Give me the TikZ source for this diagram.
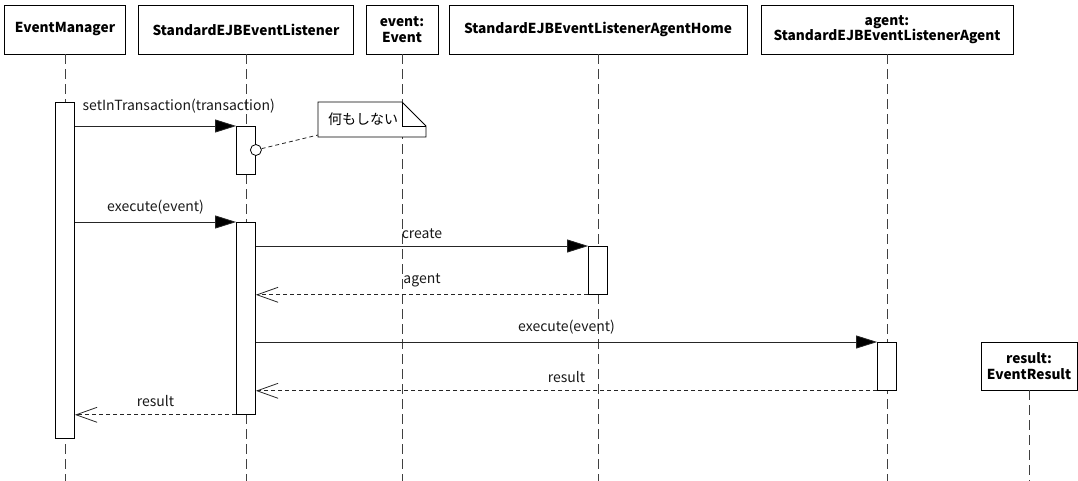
\documentclass[tikz,border=0pt]{standalone}
\usepackage{fontspec}
\setmainfont{Noto Sans CJK JP}
\usetikzlibrary{arrows.meta}

\begin{document}
\begin{tikzpicture}[x=1pt, y=-1pt, line width=0.8pt,
    obj/.style={draw, fill=white, font=\bfseries\fontsize{13.7}{15.5}\selectfont, align=center, inner sep=2pt},
    life/.style={draw=black!75, dash pattern=on 10pt off 5pt},
    act/.style={draw, fill=white, minimum width=19pt, inner sep=0pt},
    msg/.style={draw=black!85, -{Triangle[length=21pt, width=13pt, fill=black]}},
    ret/.style={draw=black!85, dash pattern=on 4pt off 3pt, -{Straight Barb[length=21pt, width=15pt]}},
    lbl/.style={font=\fontsize{14}{16}\selectfont, text=black!90}]
  \useasboundingbox (0,0) rectangle (1078,481);

  % objects
  \node[obj, minimum width=121pt, minimum height=49pt] (mgr) at (65,29.5) {EventManager};
  \node[obj, minimum width=215pt, minimum height=49pt] (lis) at (246,29.5) {StandardEJBEventListener};
  \node[obj, minimum width=72pt, minimum height=49pt] (evt) at (402,29.5) {event:\\Event};
  \node[obj, minimum width=298pt, minimum height=49pt] (home) at (598,29.5) {StandardEJBEventListenerAgentHome};
  \node[obj, minimum width=252pt, minimum height=49pt] (agent) at (887,29.5) {agent:\\StandardEJBEventListenerAgent};
  \node[obj, minimum width=96pt, minimum height=48pt] (res) at (1029,366) {result:\\EventResult};

  % lifelines
  \foreach \n in {mgr, lis, evt, home, agent, res}
    \draw[life] (\n.south) -- (\n.south |- 0,481);

  % activations
  \node[act, minimum height=336pt, anchor=north] (mgrA) at (mgr.south |- 0,102) {};
  \node[act, minimum height=48pt, anchor=north] (lisA) at (lis.south |- 0,126) {};
  \node[act, minimum height=192pt, anchor=north] (lisB) at (lis.south |- 0,222) {};
  \node[act, minimum height=48pt, anchor=north] (homeA) at (home.south |- 0,246) {};
  \node[act, minimum height=48pt, anchor=north] (agentA) at (agent.south |- 0,342) {};

  % note
  \coordinate (noteL) at (318,135);
  \draw[fill=white] (318,102) -- (402,102) -- (426,126) -- (426,137) -- (318,137) -- cycle;
  \draw (402,102) -- (402,126) -- (426,126);
  \node[font=\fontsize{14}{16}\selectfont] (note) at (363,119) {何もしない};
  \node[circle, draw, fill=white, inner sep=0pt, minimum size=11pt] (hook) at (lisA.east |- 0,150) {};
  \draw[dash pattern=on 4pt off 3pt, draw=black!85] (hook) -- (noteL);

  % messages
  \draw[msg] (lisA.north west -| mgrA.east) -- (lisA.north west)
    node[lbl, pos=0, anchor=south west, xshift=4pt, yshift=9pt] {setInTransaction(transaction)};
  \draw[msg] (lisB.north west -| mgrA.east) -- (lisB.north west)
    node[lbl, midway, above=4pt] {execute(event)};
  \draw[msg] (homeA.north west -| lisB.east) -- (homeA.north west)
    node[lbl, midway, above=4pt] {create};
  \draw[ret] (homeA.south west) -- (homeA.south west -| lisB.east)
    node[lbl, midway, above=4pt] {agent};
  \draw[msg] (agentA.north west -| lisB.east) -- (agentA.north west)
    node[lbl, midway, above=4pt] {execute(event)};
  \draw[ret] (agentA.south west) -- (agentA.south west -| lisB.east)
    node[lbl, midway, above=4pt] {result};
  \draw[ret] (lisB.south west) -- (lisB.south west -| mgrA.east)
    node[lbl, midway, above=4pt] {result};
\end{tikzpicture}
\end{document}
